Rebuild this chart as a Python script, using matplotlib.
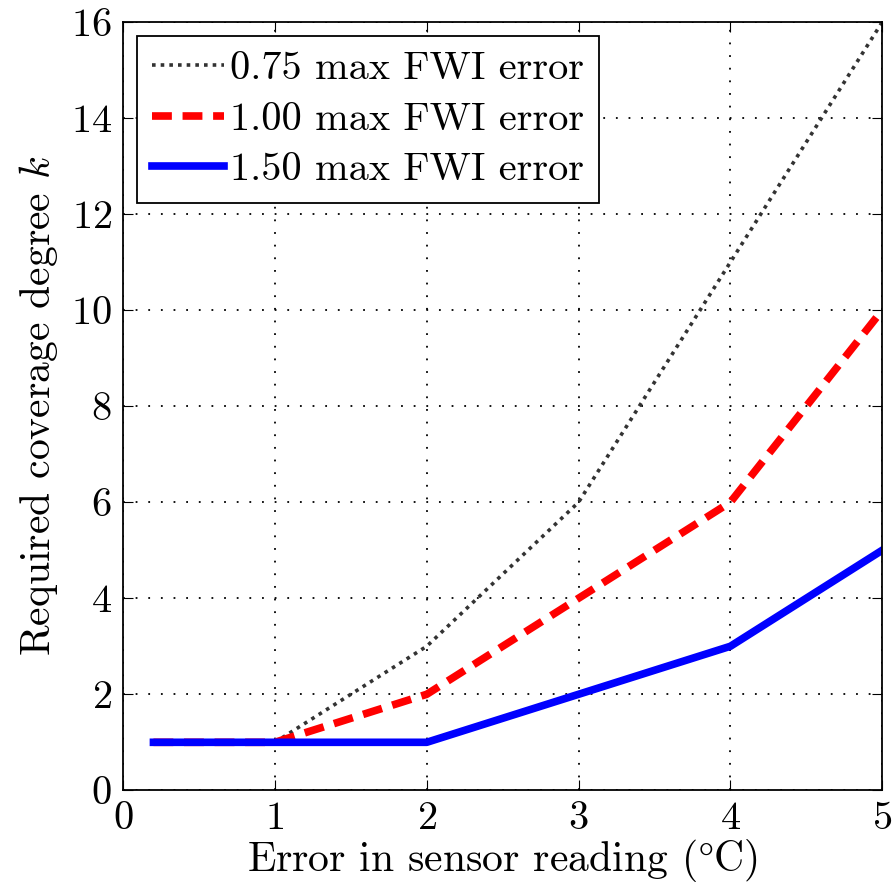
import numpy as np
import matplotlib
matplotlib.use("Agg")
import matplotlib.pyplot as plt

plt.rcParams['font.family'] = 'serif'
plt.rcParams['font.serif'] = ['cmr10', 'DejaVu Serif']
plt.rcParams['mathtext.fontset'] = 'cm'
plt.rcParams['axes.formatter.use_mathtext'] = True

# data
err = [0.2, 1, 2, 3, 4, 5]
k_075 = [1, 1, 3, 6, 11, 16]
k_100 = [1, 1, 2, 4, 6, 10]
k_150 = [1, 1, 1, 2, 3, 5]
labels = ['0.75 max FWI error', '1.00 max FWI error', '1.50 max FWI error']

fig = plt.figure(figsize=(8.92, 8.86), dpi=100)
ax = fig.add_axes([0.138, 0.108, 0.851, 0.867])

ax.plot(err, k_075, color='#333333', linestyle=(0, (1, 1.4)), linewidth=2.6, label=labels[0])
ax.plot(err, k_100, color='red', linestyle=(0, (2.6, 1.4)), linewidth=5.5, label=labels[1])
ax.plot(err, k_150, color='blue', linestyle='-', linewidth=5.5, label=labels[2])

ax.set_xlim(0, 5)
ax.set_ylim(0, 16)
ax.set_xticks(np.arange(0, 6, 1))
ax.set_yticks(np.arange(0, 17, 2))
ax.grid(True, color='black', linestyle=(0, (1, 6)), linewidth=1.3)
ax.tick_params(direction='in', top=True, right=True, labelsize=29, length=7, pad=8)
for s in ax.spines.values():
    s.set_linewidth(1.3)

ax.set_xlabel('Error in sensor reading ($\\degree$C)', fontsize=30, labelpad=0)
ax.set_ylabel('Required coverage degree $k$', fontsize=30, labelpad=8)

leg = ax.legend(loc='upper left', fontsize=29, fancybox=False, framealpha=1,
                edgecolor='black', handlelength=1.8, handletextpad=0.15,
                borderaxespad=0.35, labelspacing=0.36, borderpad=0.36)
leg.get_frame().set_linewidth(1.3)

fig.savefig('out.png', dpi=100)
